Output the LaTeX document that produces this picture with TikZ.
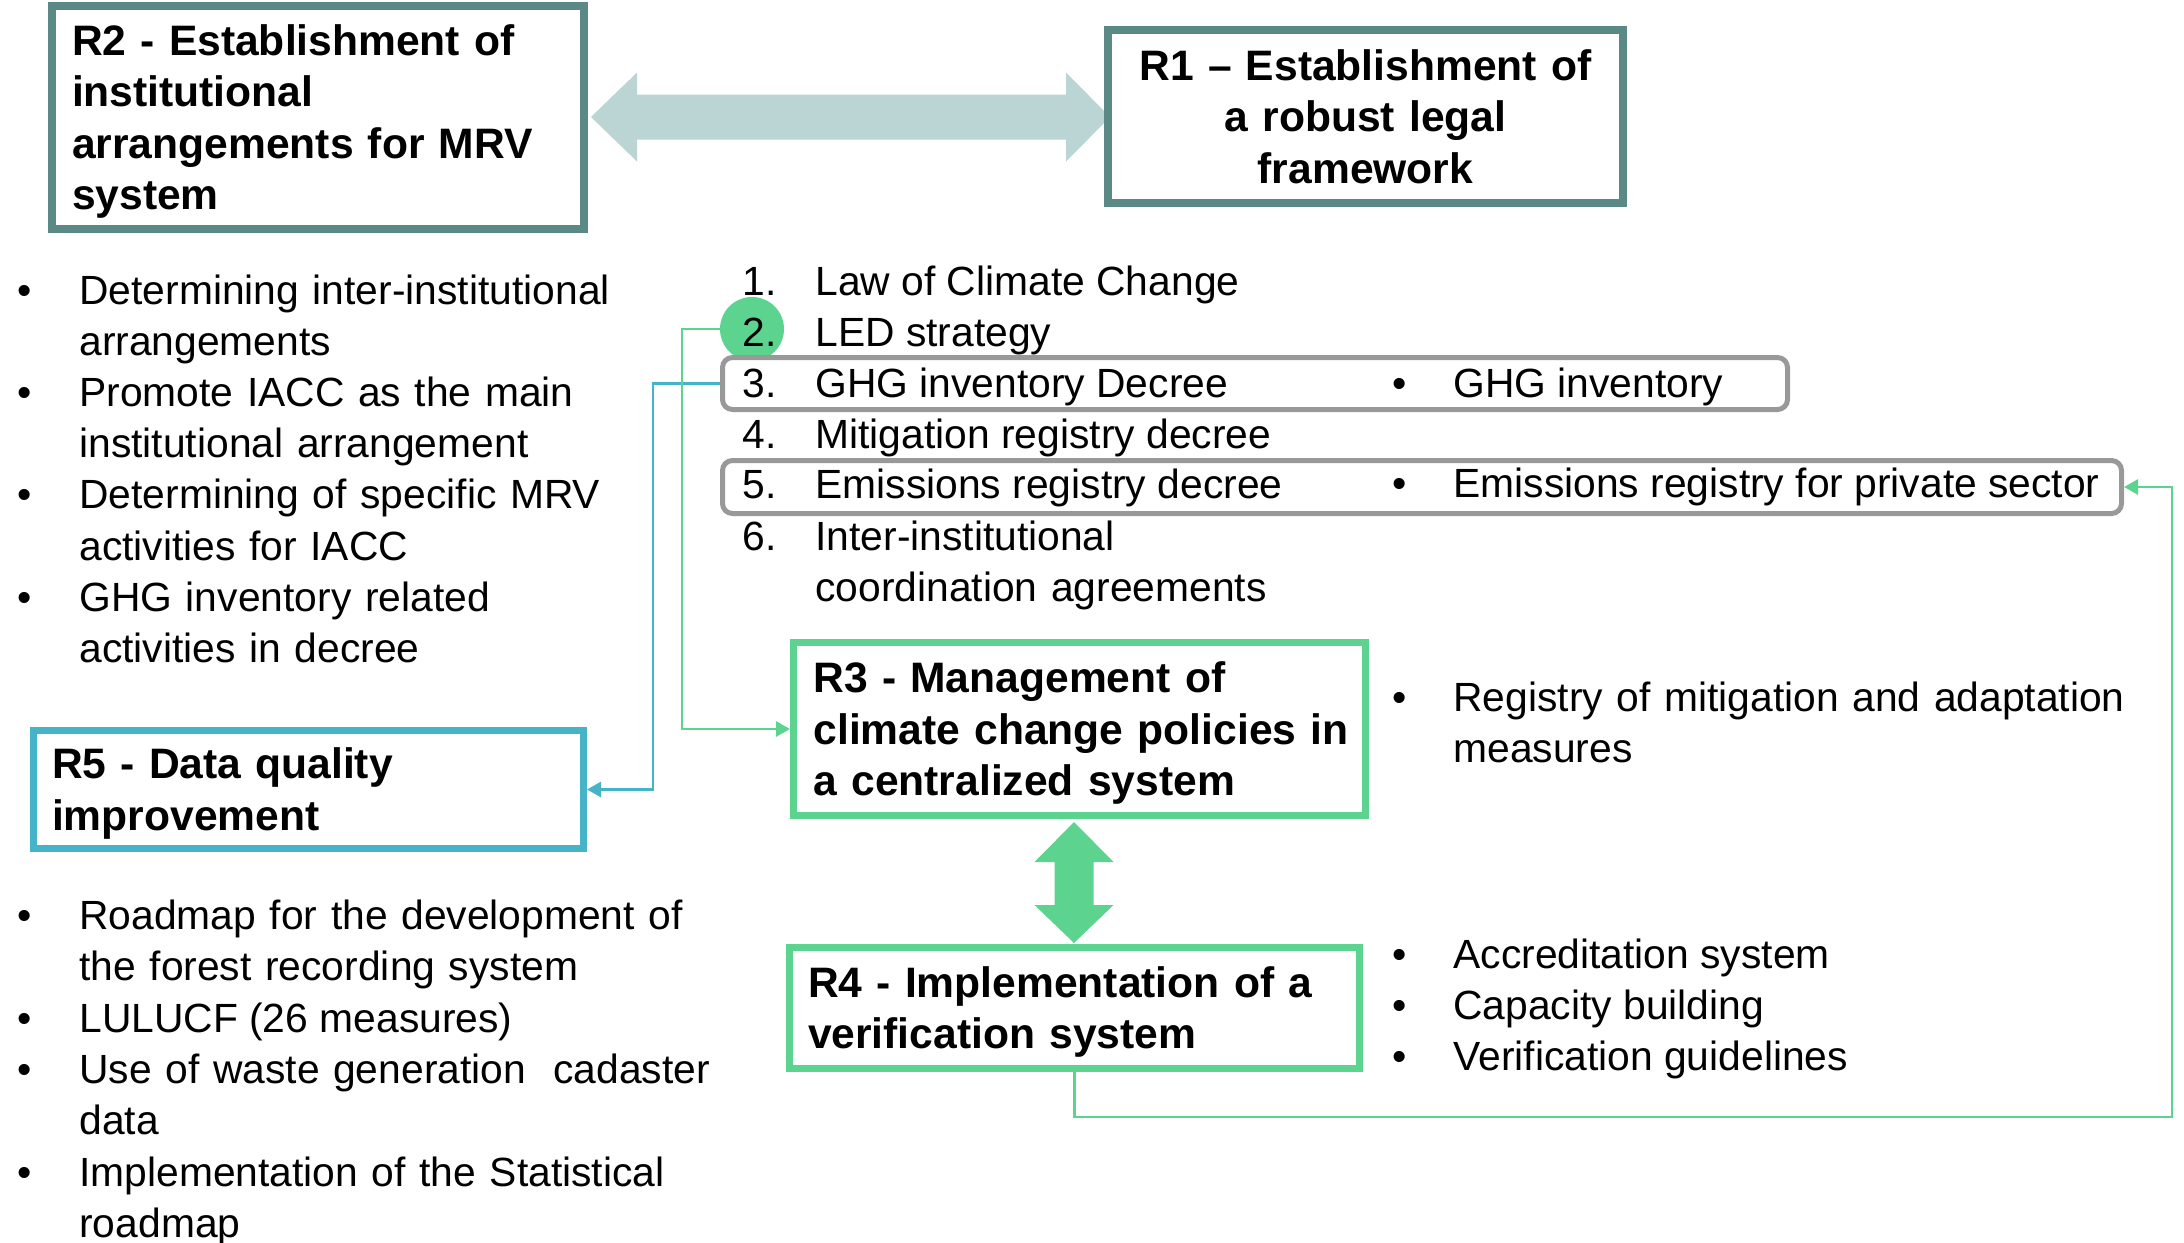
\documentclass[tikz,border=0pt]{standalone}
\usepackage{fontspec}
\setmainfont{Liberation Sans}
\usetikzlibrary{arrows.meta}
\definecolor{tealb}{RGB}{91,137,133}
\definecolor{lightar}{RGB}{186,213,211}
\definecolor{grn}{RGB}{92,211,143}
\definecolor{cyn}{RGB}{69,180,200}
\definecolor{gry}{RGB}{153,153,153}
\newcommand{\topstrut}{\rule{0pt}{19.5pt}}
\begin{document}
\begin{tikzpicture}[x=0.5pt,y=-0.5pt,
 rbox/.style={font=\bfseries\fontsize{21.3}{25.75}\selectfont, align=left, fill=white},
 body/.style={font=\fontsize{20.4}{25.6}\selectfont, inner sep=0pt, anchor=base west, align=left},
 bul/.style={font=\fontsize{20.4}{25.6}\selectfont, inner sep=0pt, anchor=base},
 multi/.style={body, text width=340pt},
 gbox/.style={draw=gry, line width=2.5pt, rounded corners=5pt, fill=white, inner sep=0pt},
 conn/.style={line width=1.4pt, -{Triangle[length=7pt,width=7.5pt]}},
]
\fill[white] (0,0) rectangle (2184,1242);
\useasboundingbox (0,0) rectangle (2184,1242);

% big arrows
\fill[lightar] (591,117) -- (637,72.5) -- (637,94.5) -- (1066,94.5) -- (1066,72.5) -- (1110,117)
  -- (1066,161.5) -- (1066,139.5) -- (637,139.5) -- (637,161.5) -- cycle;
\fill[grn] (1074,822) -- (1113.5,862) -- (1093.5,862) -- (1093.5,905) -- (1113.5,905) -- (1074,943)
  -- (1034.5,905) -- (1054.5,905) -- (1054.5,862) -- (1034.5,862) -- cycle;

% title boxes
\node[rbox, draw=tealb, line width=4pt, minimum width=266pt, minimum height=111.5pt,
  inner xsep=10pt, text width=246pt] (R2) at (318,117.5)
  {\topstrut R2 - Establishment of\\institutional\\arrangements for MRV\\system};
\node[rbox, draw=tealb, line width=4pt, minimum width=257.5pt, minimum height=86.5pt,
  inner xsep=10pt, text width=237.5pt, align=center] (R1) at (1365.5,116.5)
  {R1 -- Establishment of\\a robust legal\\framework};
\node[rbox, draw=grn, line width=3.5pt, minimum width=286pt, minimum height=86.5pt,
  inner xsep=10pt, text width=266pt] (R3) at (1079.5,729)
  {\topstrut R3 - Management of\\\mbox{climate change policies in}\\a centralized system};
\node[rbox, draw=grn, line width=3.5pt, minimum width=285pt, minimum height=60.5pt,
  inner xsep=9.25pt, text width=266.5pt] (R4) at (1074.5,1008)
  {\topstrut R4 - Implementation of a\\verification system};
\node[rbox, draw=cyn, line width=3.5pt, minimum width=275pt, minimum height=59pt,
  inner xsep=9.25pt, text width=256.5pt] (R5) at (308.5,789.5)
  {\topstrut R5 - Data quality\\improvement};

% highlight circle and grey boxes
\node[circle, fill=grn, minimum size=32pt, inner sep=0pt] (c2) at (752,329) {};
\node[gbox, minimum width=532.5pt, minimum height=26pt] (boxA) at (1255,383.5) {};
\node[gbox, minimum width=699.5pt, minimum height=26.5pt] (boxB) at (1422,487) {};

% numbered list
\node[body] (n1) at (742,295) {1.};
\node[body] (t1) at (815,295) {Law of Climate Change};
\node[body] (n2) at (742,346) {2.};
\node[body] (t2) at (815,346) {LED strategy};
\node[body] (n3) at (742,397) {3.};
\node[body] (t3) at (815,397) {GHG inventory Decree};
\node[body] (n4) at (742,448) {4.};
\node[body] (t4) at (815,448) {Mitigation registry decree};
\node[body] (n5) at (742,498) {5.};
\node[body] (t5) at (815,498) {Emissions registry decree};
\node[body] (n6) at (742,550) {6.};
\node[multi] (t6) at (815,550) {Inter-institutional\\coordination agreements};

% right bullets
\node[bul] (rb1) at (1400,397) {•};
\node[body] (rt1) at (1453,397) {GHG inventory};
\node[bul] (rb2) at (1400,497) {•};
\node[body] (rt2) at (1453,497) {Emissions registry for private sector};
\node[bul] (rb3) at (1400,711) {•};
\node[multi] (rt3) at (1453,711) {Registry of mitigation and adaptation\\measures};
\node[bul] (rb4) at (1400,968) {•};
\node[body] (rt4) at (1453,968) {Accreditation system};
\node[bul] (rb5) at (1400,1019) {•};
\node[body] (rt5) at (1453,1019) {Capacity building};
\node[bul] (rb6) at (1400,1070) {•};
\node[body] (rt6) at (1453,1070) {Verification guidelines};

% left top bullets
\node[bul] (lb1) at (25,304) {•};
\node[multi] (lt1) at (79,304) {Determining inter-institutional\\arrangements};
\node[bul] (lb2) at (25,406.4) {•};
\node[multi] (lt2) at (79,406.4) {Promote IACC as the main\\institutional arrangement};
\node[bul] (lb3) at (25,508.8) {•};
\node[multi] (lt3) at (79,508.8) {Determining of specific MRV\\activities for IACC};
\node[bul] (lb4) at (25,611.2) {•};
\node[multi] (lt4) at (79,611.2) {GHG inventory related\\activities in decree};

% left bottom bullets
\node[bul] (mb1) at (25,929) {•};
\node[multi] (mt1) at (79,929) {Roadmap for the development of\\the forest recording system};
\node[bul] (mb2) at (25,1032) {•};
\node[body] (mt2) at (79,1032) {LULUCF (26 measures)};
\node[bul] (mb3) at (25,1083) {•};
\node[multi] (mt3) at (79,1083) {Use of waste generation~ cadaster\\data};
\node[bul] (mb4) at (25,1186) {•};
\node[multi] (mt4) at (79,1186) {Implementation of the Statistical\\roadmap};

% connectors
\coordinate (bJ) at (653,383.5);
\coordinate (gJ) at (682,329);
\coordinate (cB) at (2172,1117);
\draw[conn, cyn] (boxA.west) -- (bJ) |- (R5.east);
\draw[conn, grn] (c2.west) -- (gJ) |- (R3.west);
\draw[conn, grn] (R4.south) |- (cB) |- (boxB.east);
\end{tikzpicture}
\end{document}
